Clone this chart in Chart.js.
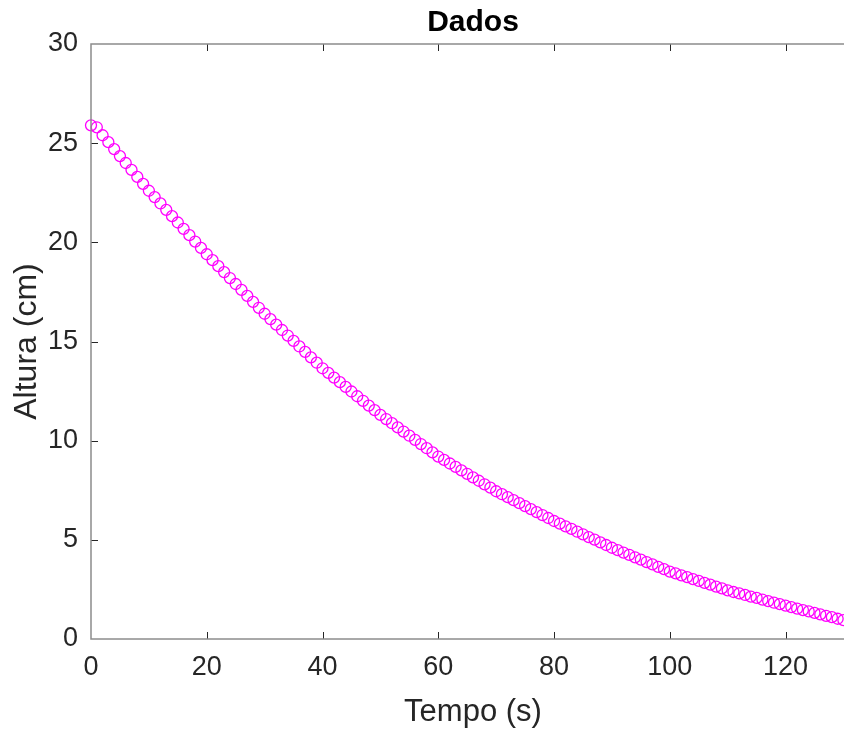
<!DOCTYPE html>
<html>
<head>
<meta charset="utf-8">
<script src="https://cdn.jsdelivr.net/npm/chart.js@4"></script>
<style>
  html, body { margin: 0; padding: 0; background: #fff; overflow: hidden; }
  canvas { display: block; }
</style>
</head>
<body>
<!-- a figura original foi cortada na borda direita: o gráfico continua além dos 844 px -->
<canvas id="grafico" width="856" height="729"></canvas>
<script>
// Tempo (s) de cada medida
const tempo = [
  0, 1, 2, 3, 4, 5, 6, 7, 8, 9, 10,
  11, 12, 13, 14, 15, 16, 17, 18, 19, 20,
  21, 22, 23, 24, 25, 26, 27, 28, 29, 30,
  31, 32, 33, 34, 35, 36, 37, 38, 39, 40,
  41, 42, 43, 44, 45, 46, 47, 48, 49, 50,
  51, 52, 53, 54, 55, 56, 57, 58, 59, 60,
  61, 62, 63, 64, 65, 66, 67, 68, 69, 70,
  71, 72, 73, 74, 75, 76, 77, 78, 79, 80,
  81, 82, 83, 84, 85, 86, 87, 88, 89, 90,
  91, 92, 93, 94, 95, 96, 97, 98, 99, 100,
  101, 102, 103, 104, 105, 106, 107, 108, 109, 110,
  111, 112, 113, 114, 115, 116, 117, 118, 119, 120,
  121, 122, 123, 124, 125, 126, 127, 128, 129, 130
];

// Altura (cm) lida em cada instante
const altura = [
  25.9, 25.8, 25.4, 25.05, 24.7, 24.35, 24.0, 23.65, 23.3, 22.95, 22.6,
  22.28, 21.96, 21.64, 21.32, 21.0, 20.68, 20.36, 20.04, 19.72, 19.4,
  19.1, 18.8, 18.5, 18.2, 17.9, 17.6, 17.3, 17.0, 16.7, 16.4,
  16.13, 15.85, 15.58, 15.3, 15.03, 14.75, 14.48, 14.2, 13.93, 13.65,
  13.42, 13.18, 12.95, 12.71, 12.48, 12.24, 12.01, 11.77, 11.54, 11.3,
  11.09, 10.88, 10.67, 10.46, 10.25, 10.04, 9.83, 9.62, 9.41, 9.2,
  9.03, 8.85, 8.68, 8.5, 8.33, 8.15, 7.98, 7.8, 7.63, 7.45,
  7.3, 7.15, 7.0, 6.85, 6.7, 6.55, 6.4, 6.25, 6.1, 5.95,
  5.82, 5.68, 5.55, 5.41, 5.28, 5.14, 5.01, 4.87, 4.74, 4.6,
  4.48, 4.36, 4.24, 4.12, 4.0, 3.88, 3.76, 3.64, 3.52, 3.4,
  3.31, 3.21, 3.12, 3.02, 2.93, 2.83, 2.74, 2.64, 2.55, 2.45,
  2.37, 2.3, 2.22, 2.14, 2.07, 1.99, 1.91, 1.83, 1.76, 1.68,
  1.61, 1.53, 1.46, 1.39, 1.32, 1.24, 1.17, 1.1, 1.02, 0.95
];

// Marcas dos eixos
const ticksX = [0, 20, 40, 60, 80, 100, 120];
const ticksY = [0, 5, 10, 15, 20, 25, 30];

Chart.defaults.font.family = '"Liberation Sans", Arial, Helvetica, sans-serif';

// Centraliza o título sobre a área do gráfico e desenha a caixa com marcas para dentro
const caixaEixos = {
  id: 'caixaEixos',
  afterLayout(chart) {
    const t = chart.titleBlock;
    if (t) {
      t.left = chart.chartArea.left;
      t.right = chart.chartArea.right;
      t.width = t.right - t.left;
    }
  },
  afterDatasetsDraw(chart) {
    const { ctx, chartArea: a, scales: { x, y } } = chart;
    ctx.save();
    ctx.strokeStyle = '#262626';
    ctx.lineWidth = 1;
    ctx.beginPath();
    ticksX.forEach(v => {
      const px = Math.round(x.getPixelForValue(v)) + 0.5;
      if (px <= a.left + 1 || px >= a.right - 1) return;
      ctx.moveTo(px, a.bottom); ctx.lineTo(px, a.bottom - 7);
      ctx.moveTo(px, a.top); ctx.lineTo(px, a.top + 7);
    });
    ticksY.forEach(v => {
      const py = Math.round(y.getPixelForValue(v)) + 0.5;
      if (py <= a.top + 1 || py >= a.bottom - 1) return;
      ctx.moveTo(a.left, py); ctx.lineTo(a.left + 7, py);
      ctx.moveTo(a.right, py); ctx.lineTo(a.right - 7, py);
    });
    ctx.stroke();
    ctx.strokeStyle = '#8c8c8c';
    ctx.lineWidth = 1.5;
    ctx.strokeRect(a.left, a.top, a.right - a.left, a.bottom - a.top);
    ctx.restore();
  }
};

const ctx = document.getElementById('grafico').getContext('2d');
new Chart(ctx, {
  type: 'scatter',
  data: {
    datasets: [{
      label: 'Dados',
      data: tempo.map((t, i) => ({ x: t, y: altura[i] })),
      borderColor: '#ff00ff',
      backgroundColor: 'rgba(0,0,0,0)',
      pointRadius: 5.5,
      pointBorderWidth: 1.3,
      pointHoverRadius: 5.5,
      clip: false
    }]
  },
  options: {
    responsive: false,
    animation: false,
    layout: { autoPadding: false, padding: { top: 0, right: 1, bottom: 0, left: 0 } },
    plugins: {
      legend: { display: false },
      tooltip: { enabled: false },
      title: {
        display: true,
        text: 'Dados',
        color: '#000',
        font: { size: 30, weight: 'bold' },
        padding: { top: 5, bottom: 3 }
      }
    },
    scales: {
      x: {
        type: 'linear',
        min: 0,
        max: 132,
        afterBuildTicks: s => { s.ticks = ticksX.map(v => ({ value: v })); },
        afterFit: s => { s.height = 90; s.paddingLeft = 0; s.paddingRight = 0; },
        grid: { display: false, drawTicks: false },
        border: { display: false },
        ticks: { color: '#262626', font: { size: 27 }, padding: 12, maxRotation: 0, autoSkip: false },
        title: { display: true, text: 'Tempo (s)', color: '#262626', font: { size: 31 }, padding: { top: 0, bottom: -2 } }
      },
      y: {
        type: 'linear',
        min: 0,
        max: 30,
        afterBuildTicks: s => { s.ticks = ticksY.map(v => ({ value: v })); },
        afterFit: s => { s.width = 91; },
        grid: { display: false, drawTicks: false },
        border: { display: false },
        ticks: { color: '#262626', font: { size: 27 }, padding: 13, autoSkip: false },
        title: { display: true, text: 'Altura (cm)', color: '#262626', font: { size: 32 }, padding: { top: 8, bottom: 0 } }
      }
    }
  },
  plugins: [caixaEixos]
});
</script>
</body>
</html>
